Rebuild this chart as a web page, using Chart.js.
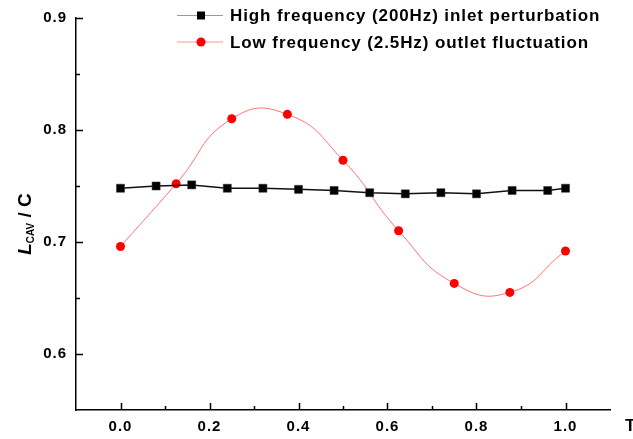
<!DOCTYPE html>
<html>
<head>
<meta charset="utf-8">
<script src="https://cdn.jsdelivr.net/npm/chart.js@4.4.1/dist/chart.umd.min.js"></script>
<style>
  html, body { margin: 0; padding: 0; background: #fff; }
</style>
</head>
<body>
<canvas id="myChart" width="633" height="439"></canvas>
<script>
// data
const highX = [0, 0.08, 0.16, 0.24, 0.32, 0.40, 0.48, 0.56, 0.64, 0.72, 0.80, 0.88, 0.96, 1.0]
const highY = [0.748, 0.750, 0.751, 0.748, 0.748, 0.747, 0.746, 0.744, 0.743, 0.744, 0.743, 0.746, 0.746, 0.748]
const lowX = [0, 0.125, 0.25, 0.375, 0.5, 0.625, 0.75, 0.875, 1.0]
const lowY = [0.696, 0.752, 0.810, 0.814, 0.773, 0.710, 0.663, 0.655, 0.692]
const seriesNames = ["High frequency (200Hz) inlet perturbation", "Low frequency (2.5Hz) outlet fluctuation"]

const xMajor = [0.0, 0.2, 0.4, 0.6, 0.8, 1.0]
const xMinor = [0.1, 0.3, 0.5, 0.7, 0.9]
const yMajor = [0.6, 0.7, 0.8, 0.9]
const yMinor = [0.65, 0.75, 0.85]

const FONT = "'Liberation Sans', Arial, sans-serif"

const toPoints = (xs, ys) => xs.map((x, i) => ({ x: x, y: ys[i] }))

// wider letter spacing for the tick labels, like the original export
const spacing = {
  id: "spacing",
  beforeDraw(chart) { chart.ctx.letterSpacing = "1px" },
  afterDraw(chart) { chart.ctx.letterSpacing = "0px" }
}

// inward tick marks, drawn from the scales
const tickMarks = {
  id: "tickMarks",
  afterDraw(chart) {
    const ctx = chart.ctx
    const xs = chart.scales.x, ys = chart.scales.y
    const bottom = chart.chartArea.bottom, left = chart.chartArea.left
    ctx.save()
    ctx.letterSpacing = "0px"
    ctx.strokeStyle = "#000"
    ctx.lineWidth = 1.5
    ctx.beginPath()
    xMajor.forEach(v => { const p = Math.round(xs.getPixelForValue(v)) + 0.5; ctx.moveTo(p, bottom); ctx.lineTo(p, bottom - 7) })
    xMinor.forEach(v => { const p = Math.round(xs.getPixelForValue(v)) + 0.5; ctx.moveTo(p, bottom); ctx.lineTo(p, bottom - 4) })
    yMajor.forEach(v => { const p = Math.round(ys.getPixelForValue(v)) + 0.5; ctx.moveTo(left, p); ctx.lineTo(left + 7, p) })
    yMinor.forEach(v => { const p = Math.round(ys.getPixelForValue(v)) + 0.5; ctx.moveTo(left, p); ctx.lineTo(left + 4, p) })
    ctx.stroke()

    // axis titles
    ctx.fillStyle = "#000"
    ctx.font = "bold 17px " + FONT
    ctx.textBaseline = "alphabetic"
    ctx.fillText("T", 625, 431)

    ctx.translate(31, 224)
    ctx.rotate(-Math.PI / 2)
    ctx.font = "italic bold 19px " + FONT
    const wL = ctx.measureText("L").width
    ctx.font = "bold 10px " + FONT
    const wSub = ctx.measureText("CAV").width
    ctx.font = "bold 19px " + FONT
    const wRest = ctx.measureText(" / C").width
    let x0 = -(wL + wSub + wRest) / 2
    ctx.font = "italic bold 19px " + FONT
    ctx.fillText("L", x0, 0)
    x0 += wL
    ctx.font = "bold 10px " + FONT
    ctx.fillText("CAV", x0, 3)
    x0 += wSub
    ctx.font = "bold 19px " + FONT
    ctx.fillText(" / C", x0, 0)
    ctx.restore()
  }
}

// legend: line sample + marker + label
const legendBox = {
  id: "legendBox",
  afterDraw(chart) {
    const ctx = chart.ctx
    const rows = [15.5, 42]
    const sampleColors = ["#9a9a9a", "#ff9a9a"]
    ctx.save()
    chart.data.datasets.forEach((ds, i) => {
      const y = rows[i]
      ctx.strokeStyle = sampleColors[i]
      ctx.lineWidth = 1.2
      ctx.beginPath()
      ctx.moveTo(177, y)
      ctx.lineTo(223, y)
      ctx.stroke()
      ctx.fillStyle = ds.pointBackgroundColor
      if (ds.pointStyle === "rect") {
        ctx.fillRect(197, y - 4, 8, 8)
      } else {
        ctx.beginPath()
        ctx.arc(201, y, 4.5, 0, Math.PI * 2)
        ctx.fill()
      }
      ctx.fillStyle = "#000"
      ctx.font = "bold 17px " + FONT
      ctx.letterSpacing = "0.9px"
      ctx.textBaseline = "middle"
      ctx.fillText(ds.label, 230, y + 1)
    })
    ctx.restore()
  }
}

const myChart = new Chart(document.getElementById("myChart"), {
  type: "line",
  data: {
    datasets: [
      {
        label: seriesNames[0],
        data: toPoints(highX, highY),
        borderColor: "#111",
        borderWidth: 1.5,
        pointStyle: "rect",
        pointRadius: 5.7,
        pointBackgroundColor: "#000",
        pointBorderColor: "#333",
        pointBorderWidth: 0.5,
        tension: 0
      },
      {
        label: seriesNames[1],
        data: toPoints(lowX, lowY),
        borderColor: "rgba(255, 0, 0, 0.55)",
        borderWidth: 1,
        pointStyle: "circle",
        pointRadius: 4.5,
        pointBackgroundColor: "#ff0000",
        pointBorderColor: "#ff0000",
        pointBorderWidth: 0,
        tension: 0.5
      }
    ]
  },
  options: {
    responsive: false,
    animation: false,
    events: [],
    layout: { padding: { top: 14, right: 23, left: 0, bottom: 0 } },
    plugins: { legend: { display: false }, tooltip: { enabled: false } },
    scales: {
      x: {
        type: "linear",
        min: -0.1,
        max: 1.1,
        grid: { display: false, drawTicks: false },
        border: { display: true, color: "#000", width: 1.5 },
        afterBuildTicks: (scale) => { scale.ticks = xMajor.map(v => ({ value: v })) },
        afterFit: (scale) => { scale.height = 29 },
        ticks: {
          padding: 8,
          color: "#000",
          font: { family: FONT, weight: "bold", size: 15 },
          callback: (v) => Number(v).toFixed(1)
        }
      },
      y: {
        type: "linear",
        min: 0.55,
        max: 0.9,
        grid: { display: false, drawTicks: false },
        border: { display: true, color: "#000", width: 1.5 },
        afterBuildTicks: (scale) => { scale.ticks = yMajor.map(v => ({ value: v })) },
        afterFit: (scale) => { scale.width = 76 },
        ticks: {
          padding: 9,
          color: "#000",
          font: { family: FONT, weight: "bold", size: 15 },
          callback: (v) => Number(v).toFixed(1)
        }
      }
    }
  },
  plugins: [spacing, tickMarks, legendBox]
})
</script>
</body>
</html>
